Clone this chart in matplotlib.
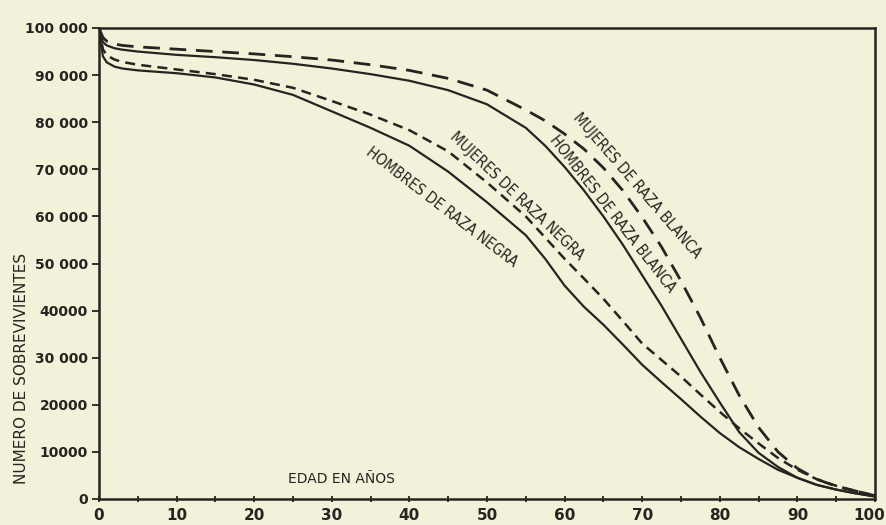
import matplotlib
matplotlib.use("Agg")
import matplotlib.pyplot as plt
from matplotlib.transforms import ScaledTranslation

ages = [0, 0.5, 1, 2, 3, 5, 10, 15, 20, 25, 30, 35, 40, 45, 50, 55, 57.5, 60, 62.5,
        65, 67.5, 70, 72.5, 75, 77.5, 80, 82.5, 85, 87.5, 90, 92.5, 95, 97.5, 100]

mujeres_blanca = [100000, 98000, 97200, 96600, 96300, 96000, 95500, 95000, 94500, 93900,
                  93200, 92200, 91000, 89300, 86800, 82600, 80300, 77500, 74300,
                  70300, 65500, 59800, 53500, 46300, 38500, 30000, 22000, 15200, 10000,
                  6500, 4200, 2700, 1700, 700]
hombres_blanca = [100000, 97000, 96300, 95700, 95400, 95000, 94300, 93800, 93200, 92400,
                  91400, 90200, 88800, 86800, 83800, 78800, 75000, 70500, 65500,
                  60000, 54000, 47500, 41000, 34000, 27000, 20500, 14200, 9800, 6800,
                  4500, 3000, 2000, 1200, 500]
mujeres_negra = [100000, 95500, 94200, 93300, 92800, 92200, 91200, 90200, 89000, 87300,
                 84500, 81600, 78300, 73800, 67200, 60000, 55500, 51000, 46800,
                 42500, 37800, 33000, 29500, 26000, 22200, 18500, 15000, 11800, 8700,
                 6200, 4200, 2800, 1700, 800]
hombres_negra = [100000, 94000, 92700, 91800, 91400, 91000, 90400, 89500, 88000, 85800,
                 82300, 78800, 75000, 69500, 63000, 56000, 51000, 45300, 40800,
                 37000, 32800, 28500, 24800, 21200, 17500, 14000, 11000, 8500, 6200,
                 4500, 3000, 2000, 1200, 600]

series_labels = ["MUJERES DE RAZA BLANCA", "HOMBRES DE RAZA BLANCA",
                 "MUJERES DE RAZA NEGRA", "HOMBRES DE RAZA NEGRA"]
xticks = [0, 10, 20, 30, 40, 50, 60, 70, 80, 90, 100]
yticks = [0, 10000, 20000, 30000, 40000, 50000, 60000, 70000, 80000, 90000, 100000]
ytick_labels = ["0", "10000", "20000", "30 000", "40000", "50 000", "60 000",
                "70 000", "80 000", "90 000", "100 000"]

bg = "#f4f1da"
ink = "#262420"

fig = plt.figure(figsize=(8.86, 5.25), dpi=100, facecolor=bg)
ax = fig.add_axes([99/886, 1-499/525, (875-99)/886, (499-28)/525])
ax.set_facecolor(bg)

ax.plot(ages, mujeres_blanca, color=ink, lw=2.0, ls=(0, (6, 3.5)))
ax.plot(ages, hombres_blanca, color=ink, lw=1.6, ls="-")
ax.plot(ages, mujeres_negra, color=ink, lw=1.8, ls=(0, (4, 2.5)))
ax.plot(ages, hombres_negra, color=ink, lw=1.6, ls="-")

ax.set_xlim(0, 100)
ax.set_ylim(0, 100000)

for s in ax.spines.values():
    s.set_color(ink)
    s.set_linewidth(1.8)

ax.set_xticks(xticks)
ax.set_xticks(list(range(5, 100, 10)), minor=True)
ax.set_xticklabels([str(t) for t in xticks], fontsize=11, fontweight="bold",
                   color=ink, family="DejaVu Sans")
ax.tick_params(axis="x", which="both", direction="inout", length=5, width=1.3,
               color=ink, pad=4)
last = ax.xaxis.get_major_ticks()[-1].label1
last.set_transform(last.get_transform() + ScaledTranslation(-4/72, 0, fig.dpi_scale_trans))
ax.set_yticks(yticks)
ax.set_yticklabels(ytick_labels, fontsize=10, fontweight="bold", color=ink)
ax.tick_params(axis="y", direction="out", length=5, width=1.3, color=ink, pad=3)

# curve labels
lab_style = dict(fontsize=11, color=ink, ha="center", va="center",
                 rotation_mode="anchor", family="DejaVu Sans", fontstretch="condensed")
ax.text(69.3, 66600, series_labels[0], rotation=-49, **lab_style)
ax.text(66.2, 60500, series_labels[1], rotation=-52, **lab_style)
ax.text(53.9, 64300, series_labels[2], rotation=-43.5, **lab_style)
ax.text(44.2, 62000, series_labels[3], rotation=-37.5, **lab_style)

ax.text(31.3, 4300, "EDAD EN AÑOS", fontsize=10, color=ink, ha="center", va="center")
fig.text(22/886, 1-368/525, "NUMERO DE SOBREVIVIENTES", rotation=90, fontsize=11,
         color=ink, ha="center", va="center")

fig.savefig("out.png", dpi=100, facecolor=bg)
